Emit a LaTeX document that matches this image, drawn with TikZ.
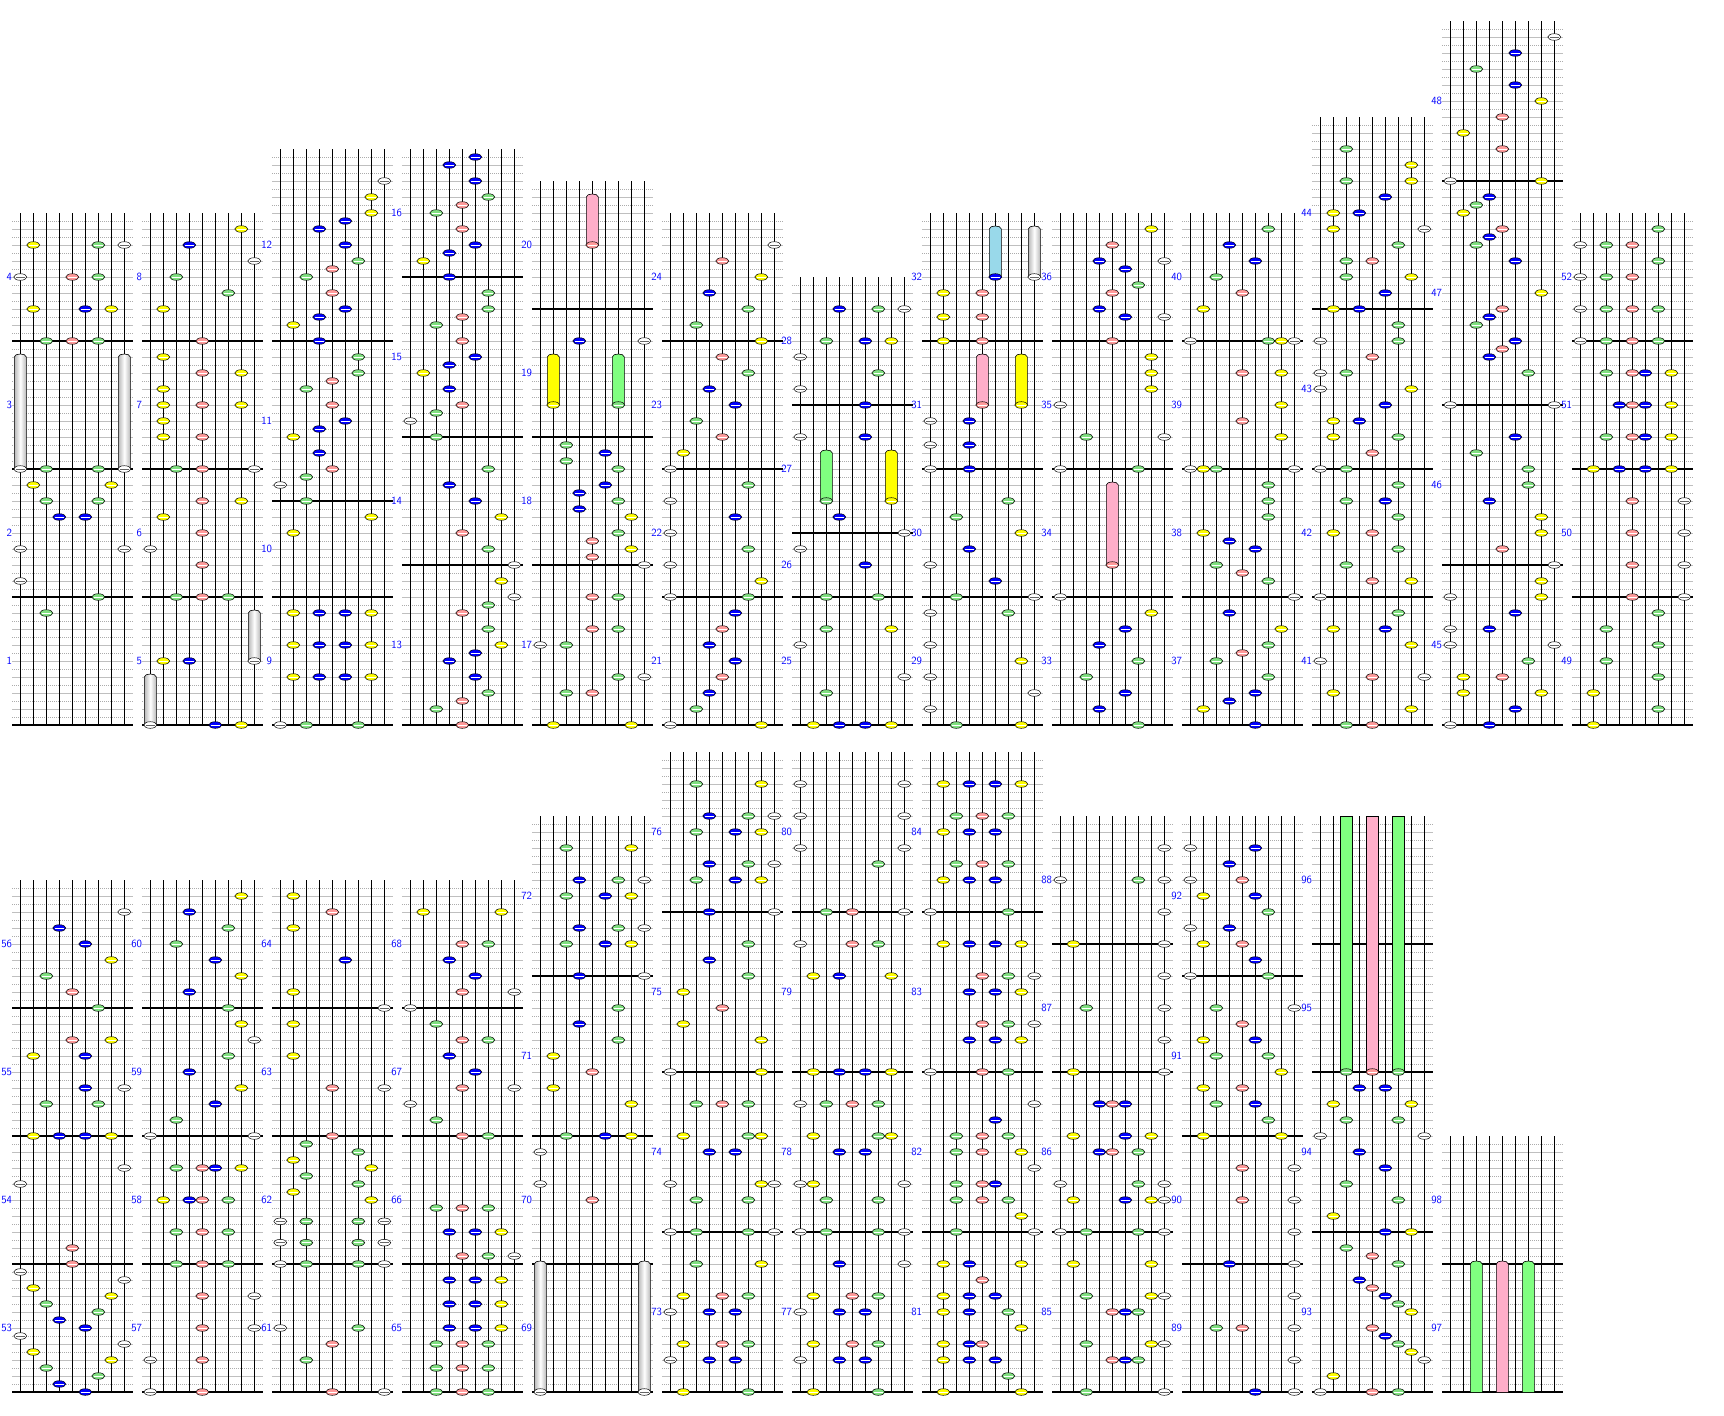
\documentclass[tikz,border=0pt]{standalone}

\definecolor{noteyel}{HTML}{FFFF00}
\definecolor{notegrn}{HTML}{80E080}
\definecolor{noteblu}{HTML}{0000FF}
\definecolor{notepnk}{HTML}{FF9A9A}
\definecolor{lngrn}{HTML}{80FF80}
\definecolor{lnpnk}{HTML}{FFAEC9}
\definecolor{lncyn}{HTML}{99D9EA}
% note colour of each of the nine lanes
\colorlet{lanec0}{white}\colorlet{lanec1}{noteyel}\colorlet{lanec2}{notegrn}
\colorlet{lanec3}{noteblu}\colorlet{lanec4}{notepnk}\colorlet{lanec5}{noteblu}
\colorlet{lanec6}{notegrn}\colorlet{lanec7}{noteyel}\colorlet{lanec8}{white}
\colorlet{midc0}{black!60}\colorlet{midc1}{white}\colorlet{midc2}{white}
\colorlet{midc3}{white}\colorlet{midc4}{white}\colorlet{midc5}{white}
\colorlet{midc6}{white}\colorlet{midc7}{white}\colorlet{midc8}{black!60}

\tikzset{
  lane/.style={black, line width=0.9pt},
  barline/.style={black, line width=1.1pt},
  grideven/.style={gray!50, line width=0.9pt},
  gridodd/.style={gray!65, line width=0.8pt, dash pattern=on 1pt off 1pt},
  barnum/.style={text=blue, font=\fontsize{11}{11}\sffamily, anchor=east, inner sep=0pt},
  note/.style={draw=black, line width=0.5pt},
  lnw/.style={draw=black, line width=0.6pt, left color=gray!55, right color=gray!55, middle color=white},
  lny/.style={draw=black, line width=0.6pt, fill=noteyel},
  lng/.style={draw=black, line width=0.6pt, fill=lngrn},
  lnp/.style={draw=black, line width=0.6pt, fill=lnpnk},
  lnc/.style={draw=black, line width=0.6pt, fill=lncyn},
}

% #1 column, #2 base line, #3 first bar, #4 bar lengths in 16ths
\newcommand\barcol[4]{%
  \pgfmathsetmacro\xl{20.3+130*#1}
  \gdef\colpos{0}
  \foreach \blen [count=\bn from #3] in {#4}{
    \pgfmathsetmacro\yb{#2-8*\colpos}
    \pgfmathtruncatemacro\lastj{\blen-1}
    \foreach \j in {1,3,...,\lastj} \draw[gridodd] (\xl-8.3,\yb-8*\j) -- ++(120.6,0);
    \foreach \j in {2,4,...,\lastj} \draw[grideven] (\xl-8.3,\yb-8*\j) -- ++(120.6,0);
    \draw[barline] (\xl-8.3,\yb) -- ++(120.6,0);
    \node[barnum] (bar\bn) at (\xl-8,\yb-4*\blen) {\bn};
    \pgfmathsetmacro\newpos{\colpos+\blen}
    \xdef\colpos{\newpos}
  }
  \foreach \i in {0,...,8} \draw[lane] (\xl+13*\i,#2) -- (\xl+13*\i,#2-8*\colpos);
}

\newcommand\keynote[3]{%
  \filldraw[note, fill=lanec#3] (#1,#2) ellipse [x radius=6.5, y radius=3.3];
  \draw[midc#3, line width=0.7pt] (#1-4.3,#2) -- (#1+4.3,#2);
}

% #1 column, #2 base line, #3 list of position/lane
\newcommand\keynotes[3]{%
  \foreach \np/\nl in {#3}{
    \pgfmathsetmacro\nx{20.3+130*#1+13*\nl}
    \pgfmathsetmacro\ny{#2-8*\np}
    \keynote{\nx}{\ny}{\nl}
  }
}

% #1 column, #2 base line, #3 from, #4 to, #5 lane, #6 body style
\newcommand\longnote[6]{%
  \pgfmathsetmacro\nx{20.3+130*#1+13*#5}
  \pgfmathsetmacro\ya{#2-8*#3}
  \pgfmathsetmacro\yb{#2-8*#4}
  \draw[#6] (\nx-6,\ya) -- (\nx-6,\yb) .. controls (\nx-6,\yb-4) and (\nx+6,\yb-4) .. (\nx+6,\yb) -- (\nx+6,\ya) -- cycle;
  \keynote{\nx}{\ya}{#5}
}

\begin{document}
\begin{tikzpicture}[x=1pt,y=-1pt]
\useasboundingbox (0,0) rectangle (1724,1416);

% upper row
\barcol{0}{725}{1}{16,16,16,16}
\barcol{1}{725}{5}{16,16,16,16}
\barcol{2}{725}{9}{16,12,20,24}
\barcol{3}{725}{13}{20,16,20,16}
\barcol{4}{725}{17}{20,16,16,16}
\barcol{5}{725}{21}{16,16,16,16}
\barcol{6}{725}{25}{16,8,16,16}
\barcol{7}{725}{29}{16,16,16,16}
\barcol{8}{725}{33}{16,16,16,16}
\barcol{9}{725}{37}{16,16,16,16}
\barcol{10}{725}{41}{16,16,20,24}
\barcol{11}{725}{45}{20,20,28,20}
\barcol{12}{725}{49}{16,16,16,16}
% lower row
\barcol{0}{1392}{53}{16,16,16,16}
\barcol{1}{1392}{57}{16,16,16,16}
\barcol{2}{1392}{61}{16,16,16,16}
\barcol{3}{1392}{65}{16,16,16,16}
\barcol{4}{1392}{69}{16,16,20,20}
\barcol{5}{1392}{73}{20,20,20,20}
\barcol{6}{1392}{77}{20,20,20,20}
\barcol{7}{1392}{81}{20,20,20,20}
\barcol{8}{1392}{85}{20,20,16,16}
\barcol{9}{1392}{89}{16,16,20,20}
\barcol{10}{1392}{93}{20,20,16,16}
\barcol{11}{1392}{97}{16,16}

% long notes
\longnote{0}{725}{32}{46}{0}{lnw}
\longnote{0}{725}{32}{46}{8}{lnw}
\longnote{1}{725}{0}{6}{0}{lnw}
\longnote{1}{725}{8}{14}{8}{lnw}
\longnote{4}{725}{40}{46}{1}{lny}
\longnote{4}{725}{40}{46}{6}{lng}
\longnote{4}{725}{60}{66}{4}{lnp}
\longnote{6}{725}{28}{34}{2}{lng}
\longnote{6}{725}{28}{34}{7}{lny}
\longnote{7}{725}{40}{46}{4}{lnp}
\longnote{7}{725}{40}{46}{7}{lny}
\longnote{7}{725}{56}{62}{5}{lnc}
\longnote{7}{725}{56}{62}{8}{lnw}
\longnote{8}{725}{20}{30}{4}{lnp}
\longnote{4}{1392}{0}{16}{0}{lnw}
\longnote{4}{1392}{0}{16}{8}{lnw}
% the last three run on from bar 96 into bar 98
\foreach \nl/\lns in {2/lng,4/lnp,6/lng}{
  \pgfmathsetmacro\nx{20.3+130*10+13*\nl}
  \draw[\lns] (\nx-6,1392-8*40) rectangle (\nx+6,1392-8*72);
  \keynote{\nx}{1392-8*40}{\nl}
  \pgfmathsetmacro\nx{20.3+130*11+13*\nl}
  \draw[\lns] (\nx-6,1392) -- (\nx-6,1264) .. controls (\nx-6,1260) and (\nx+6,1260) .. (\nx+6,1264) -- (\nx+6,1392);
}

% notes, upper row
\keynotes{0}{725}{14/2,16/6,18/0,22/0,22/8,26/3,26/5,28/2,28/6,30/1,30/7,32/2,32/6,48/2,48/4,48/6,52/1,52/5,52/7,56/0,56/4,56/6,60/1,60/6,60/8}
\keynotes{1}{725}{0/5,0/7,8/1,8/3,16/2,16/4,16/6,20/4,22/0,24/4,26/1,28/4,28/7,32/2,32/4,32/8,36/1,36/4,38/1,40/1,40/4,40/7,42/1,44/4,44/7,46/1,48/4,52/1,54/6,56/2,58/8,60/3,62/7}
\keynotes{2}{725}{0/0,0/2,0/6,6/1,6/3,6/5,6/7,10/1,10/3,10/5,10/7,14/1,14/3,14/5,14/7,24/1,26/7,28/2,30/0,31/2,32/4,34/3,36/1,37/3,38/5,40/4,42/2,43/4,44/6,46/6,48/3,50/1,51/3,52/5,54/4,56/2,57/4,58/6,60/5,62/3,63/5,64/7,66/7,68/8}
\keynotes{3}{725}{0/4,2/2,3/4,4/6,6/5,8/3,9/5,10/7,12/6,14/4,15/6,16/8,18/7,20/8,22/6,24/4,26/7,28/5,30/3,32/6,36/2,38/0,39/2,40/4,42/3,44/1,45/3,46/5,48/4,50/2,51/4,52/6,54/6,56/3,58/1,59/3,60/5,62/4,64/2,65/4,66/6,68/5,70/3,71/5}
\keynotes{4}{725}{0/1,0/7,4/2,4/4,6/6,6/8,10/0,10/2,12/4,12/6,16/4,16/6,20/8,21/4,22/7,23/4,24/6,26/7,27/3,28/6,29/3,30/5,32/6,33/2,34/5,35/2,48/3,48/8}
\keynotes{5}{725}{0/0,0/7,2/2,4/3,6/4,8/5,10/3,12/4,14/5,16/0,16/6,18/7,20/0,22/6,24/0,26/5,28/0,30/6,32/0,34/1,36/4,38/2,40/5,42/3,44/6,46/4,48/7,50/2,52/6,54/3,56/7,58/4,60/8}
\keynotes{6}{725}{0/1,0/3,0/5,0/7,4/2,6/8,10/0,12/2,12/7,16/2,16/6,20/5,22/0,24/8,26/3,36/0,36/5,40/5,42/0,44/6,46/0,48/2,48/5,48/7,52/3,52/6,52/8}
\keynotes{7}{725}{0/2,0/7,2/0,4/8,6/0,8/7,10/0,14/0,14/6,16/2,16/8,18/5,20/0,22/3,24/7,26/2,28/6,32/0,32/3,35/0,35/3,38/0,38/3,48/1,48/4,51/1,51/4,54/1,54/4}
\keynotes{8}{725}{0/6,2/3,4/5,6/2,8/6,10/3,12/5,14/7,16/0,32/0,32/6,36/2,36/8,40/0,42/7,44/7,46/7,48/4,51/5,51/8,52/3,54/4,55/6,57/5,58/3,58/8,60/4,62/7}
\keynotes{9}{725}{0/5,2/1,3/3,4/5,6/6,8/2,9/4,10/6,12/7,14/3,16/8,18/6,19/4,20/2,22/5,23/3,24/1,26/6,28/6,30/6,32/0,32/1,32/2,32/8,36/7,38/4,40/7,44/4,44/7,48/0,48/6,48/7,48/8,52/1,54/4,56/2,58/5,60/3,62/6}
\keynotes{10}{725}{0/2,0/4,2/7,4/1,6/4,6/8,8/0,10/7,12/1,12/5,14/6,16/0,18/4,18/7,20/2,22/6,24/1,24/4,26/6,28/2,28/5,30/6,32/0,32/2,34/4,36/1,36/6,38/1,38/3,40/5,42/0,42/7,44/0,44/2,46/4,48/0,48/6,50/6,52/1,52/3,54/5,56/2,56/7,58/2,58/4,60/6,62/1,62/8,64/1,64/3,66/5,68/2,68/7,70/7,72/2}
\keynotes{11}{725}{0/0,0/3,2/5,4/1,4/7,6/1,6/4,8/6,10/0,10/8,12/0,12/3,14/5,16/0,16/7,18/7,20/8,22/4,24/7,26/7,28/3,30/6,32/6,34/2,36/5,40/0,40/8,44/6,46/3,47/4,48/5,50/2,51/3,52/4,54/7,58/5,60/2,61/3,62/4,64/1,65/2,66/3,68/0,68/7,72/4,74/1,76/4,78/7,80/5,82/2,84/5,86/8}
\keynotes{12}{725}{0/1,2/6,4/1,6/6,8/2,10/6,12/2,14/6,16/4,16/8,20/4,20/8,24/4,24/8,28/4,28/8,32/1,32/3,32/5,32/7,36/2,36/4,36/5,36/7,40/3,40/4,40/5,40/7,44/2,44/4,44/5,44/7,48/0,48/2,48/4,48/6,52/0,52/2,52/4,52/6,56/0,56/2,56/4,58/6,60/0,60/2,60/4,62/6}

% notes, lower row
\keynotes{0}{1392}{0/5,1/3,2/6,3/2,4/7,5/1,6/8,7/0,8/5,9/3,10/6,11/2,12/7,13/1,14/8,15/0,16/4,18/4,26/0,28/8,32/1,32/3,32/5,32/7,36/2,36/6,38/5,38/8,42/1,42/5,44/4,44/7,48/6,50/4,52/2,54/7,56/5,58/3,60/8}
\keynotes{1}{1392}{0/0,0/4,4/0,4/4,8/4,8/8,12/4,12/8,16/2,16/4,16/6,20/2,20/4,20/6,24/1,24/3,24/4,24/6,28/2,28/4,28/5,28/7,32/0,32/8,34/2,36/5,38/7,40/3,42/6,44/8,46/7,48/6,50/3,52/7,54/5,56/2,58/6,60/3,62/7}
\keynotes{2}{1392}{0/4,0/8,4/2,6/4,8/0,8/6,16/0,16/2,16/6,16/8,18.667/0,18.667/2,18.667/6,18.667/8,21.333/0,21.333/2,21.333/6,21.333/8,24/7,25/1,26/6,27/2,28/7,29/1,30/6,31/2,32/4,38/4,38/8,42/1,46/1,48/8,50/1,54/5,58/1,60/4,62/1}
\keynotes{3}{1392}{0/2,0/4,0/6,3/2,3/4,3/6,6/2,6/4,6/6,8/3,8/5,8/7,11/3,11/5,11/7,14/3,14/5,14/7,17/4,17/6,17/8,20/3,20/5,20/7,23/2,23/4,23/6,32/4,32/6,34/2,36/0,38/4,38/8,40/5,42/3,44/4,44/6,46/2,48/0,50/4,50/8,52/5,54/3,56/4,56/6,60/1,60/7}
\keynotes{4}{1392}{24/4,26/0,30/0,32/2,32/5,32/7,36/7,38/1,40/4,42/1,44/6,46/3,48/6,52/3,52/8,56/2,56/5,56/7,58/3,58/6,58/8,62/2,62/5,62/7,64/3,64/6,64/8,68/2,68/7}
\keynotes{5}{1392}{0/1,0/6,4/0,4/3,4/5,6/1,6/4,6/6,10/0,10/3,10/5,12/1,12/4,12/6,16/2,16/7,20/0,20/2,20/6,20/8,24/2,24/6,26/0,26/7,26/8,30/3,30/5,32/1,32/6,32/7,36/2,36/4,36/6,40/0,40/7,44/7,46/1,48/4,50/1,52/6,54/3,56/6,60/3,60/8,64/2,64/5,64/7,66/3,66/6,66/8,70/2,70/5,70/7,72/3,72/6,72/8,76/2,76/7}
\keynotes{6}{1392}{0/1,0/6,4/0,4/3,4/5,6/1,6/4,6/6,10/0,10/3,10/5,12/1,12/4,12/6,16/3,16/8,20/0,20/2,20/6,20/8,24/2,24/6,26/0,26/1,26/8,30/3,30/5,32/1,32/6,32/7,36/0,36/2,36/4,36/6,40/1,40/3,40/5,40/7,52/1,52/3,52/7,56/0,56/4,56/6,60/2,60/4,60/8,66/6,68/0,68/8,72/0,72/8,76/0,76/8}
\keynotes{7}{1392}{0/1,0/7,2/6,4/1,4/3,4/5,6/1,6/3,6/4,8/7,10/1,10/3,10/6,12/1,12/3,12/5,14/4,16/1,16/3,16/7,20/2,20/8,22/7,24/2,24/4,24/6,26/2,26/4,26/5,28/8,30/2,30/4,30/7,32/2,32/4,32/6,34/5,36/8,40/0,40/4,40/6,44/3,44/5,44/7,46/4,46/6,46/8,50/3,50/5,50/7,52/4,52/6,52/8,56/1,56/3,56/5,56/7,60/0,60/6,64/1,64/3,64/5,66/2,66/4,66/6,70/1,70/3,70/5,72/2,72/4,72/6,76/1,76/3,76/5,76/7}
\keynotes{8}{1392}{0/2,0/8,4/4,4/5,4/6,6/2,6/7,6/8,10/4,10/5,10/6,12/2,12/7,12/8,16/1,16/7,20/0,20/2,20/6,20/8,24/1,24/5,24/7,24/8,26/0,26/6,26/8,30/3,30/4,30/6,32/1,32/5,32/7,36/3,36/4,36/5,40/1,40/8,44/8,48/2,48/8,52/8,56/1,56/8,60/8,64/0,64/6,64/8,68/8}
\keynotes{9}{1392}{0/5,0/8,4/8,8/2,8/4,8/8,12/8,16/3,16/8,20/8,24/4,24/8,28/4,28/8,32/1,32/7,34/6,36/2,36/5,38/1,38/4,40/7,42/2,42/6,44/1,44/5,46/4,48/2,48/8,52/0,52/6,54/5,56/1,56/4,58/0,58/3,60/6,62/1,62/5,64/0,64/4,66/3,68/0,68/5}
\keynotes{10}{1392}{0/0,0/4,0/6,2/1,4/8,5/7,6/6,7/5,8/4,10/7,11/6,12/5,13/4,14/3,16/6,17/4,18/2,20/5,20/7,22/1,24/6,26/2,28/5,30/3,32/0,32/8,34/2,34/6,36/1,36/7,38/3,38/5}
\end{tikzpicture}
\end{document}
